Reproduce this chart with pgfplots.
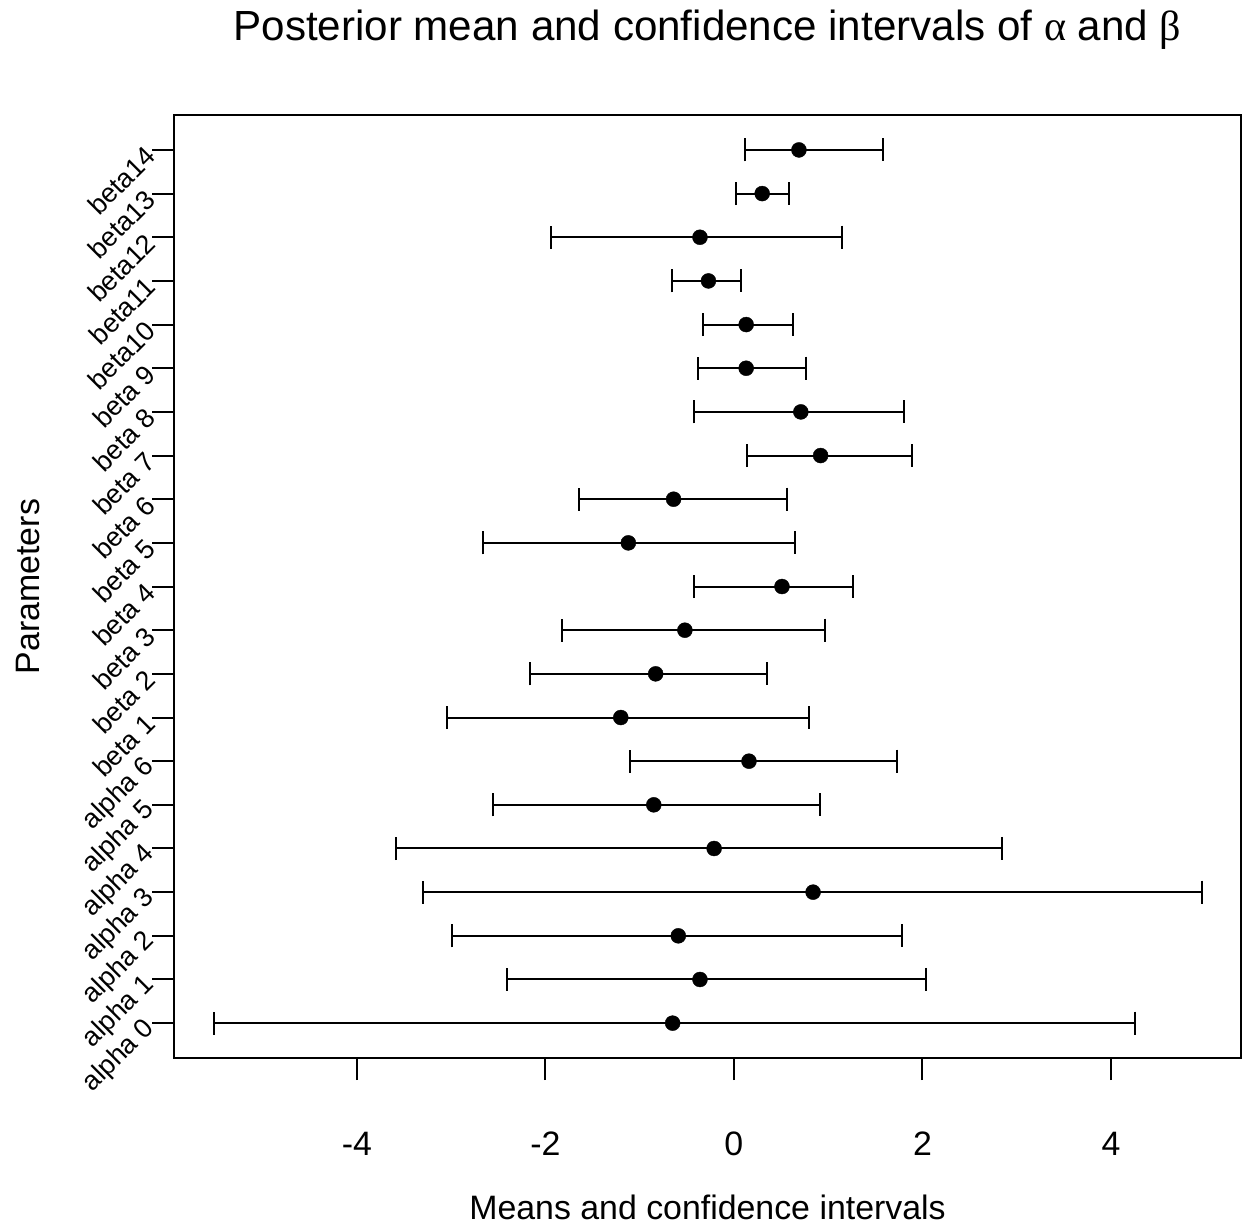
\documentclass[border=0pt]{standalone}
\usepackage{pgfplots}
\pgfplotsset{compat=1.18}
\usepackage{pgfplotstable}
\usepackage{fontspec}
\setmainfont{Liberation Sans}
\newfontfamily\greekfont{Liberation Serif}

\pgfplotstableread{
y mean lo hi
0  -0.65 -5.52 4.25
1  -0.36 -2.41 2.04
2  -0.59 -2.99 1.78
3   0.84 -3.30 4.97
4  -0.21 -3.59 2.84
5  -0.85 -2.56 0.91
6   0.16 -1.10 1.73
7  -1.20 -3.04 0.80
8  -0.83 -2.16 0.35
9  -0.52 -1.82 0.97
10  0.51 -0.42 1.26
11 -1.12 -2.66 0.65
12 -0.64 -1.64 0.56
13  0.92  0.14 1.89
14  0.71 -0.42 1.80
15  0.13 -0.38 0.76
16  0.13 -0.33 0.63
17 -0.27 -0.66 0.08
18 -0.36 -1.94 1.15
19  0.30  0.02 0.58
20  0.69  0.12 1.58
}\data

\begin{document}
\begin{tikzpicture}
\begin{axis}[
  scale only axis, width=1067bp, height=943bp,
  xmin=-5.94, xmax=5.38, ymin=-0.8, ymax=20.8,
  axis line style={line width=2bp},
  tick pos=left, tick align=outside, major tick length=22bp,
  tick style={line width=2bp, black},
  xtick={-4,-2,0,2,4}, xticklabels={-4,-2,0,2,4},
  ytick={0,...,20},
  yticklabels={alpha 0,alpha 1,alpha 2,alpha 3,alpha 4,alpha 5,alpha 6,beta 1,beta 2,beta 3,beta 4,beta 5,beta 6,beta 7,beta 8,beta 9,beta10,beta11,beta12,beta13,beta14},
  xticklabel style={font=\fontsize{34}{34}\selectfont, inner sep=0pt, anchor=north, yshift=-52bp},
  yticklabel style={font=\fontsize{27}{27}\selectfont, rotate=45, anchor=east, inner sep=0pt, xshift=-2bp},
  xlabel={Means and confidence intervals},
  xlabel style={font=\fontsize{34}{34}\selectfont, at={(axis description cs:0.5,-0.158)}, anchor=center},
  ylabel={Parameters},
  ylabel style={font=\fontsize{34}{34}\selectfont, at={(axis description cs:-0.1368,0.5)}, anchor=center},
  title={Posterior mean and confidence intervals of {\greekfont α} and {\greekfont β}},
  title style={font=\fontsize{42.3}{42.3}\selectfont, at={(axis description cs:0.5,1.0838)}, anchor=center},
]
\addplot[black, only marks, mark=*, mark size=7.5bp,
  error bars/.cd, x dir=both, x explicit, error mark=|,
  error bar style={line width=2bp, black},
  error mark options={mark size=11.5bp, line width=2bp, black}]
  table[x=mean, y=y,
    x error plus expr=\thisrow{hi}-\thisrow{mean},
    x error minus expr=\thisrow{mean}-\thisrow{lo}] {\data};
\end{axis}
\pgfresetboundingbox
\path[use as bounding box] ([xshift=-174bp,yshift=-169bp]current axis.south west) rectangle ([xshift=1bp,yshift=115bp]current axis.north east);
\end{tikzpicture}
\end{document}
